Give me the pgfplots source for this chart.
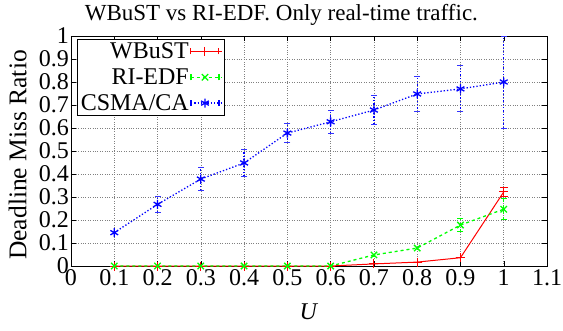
\documentclass[border=0pt]{standalone}
\usepackage{pgfplots}
\pgfplotsset{compat=1.18}
\usepackage{fontspec}
\setmainfont{Liberation Serif}
\newcommand{\bigf}{\fontsize{24}{27}\selectfont}
\begin{document}
\begin{tikzpicture}[font=\bigf]
\begin{axis}[
  scale only axis,
  width=476pt, height=230pt,
  xmin=0, xmax=1.1, ymin=0, ymax=1,
  xtick={0,0.1,...,1.1},
  xticklabels={0,0.1,0.2,0.3,0.4,0.5,0.6,0.7,0.8,0.9,1,1.1},
  ytick={0,0.1,...,1},
  yticklabels={0,0.1,0.2,0.3,0.4,0.5,0.6,0.7,0.8,0.9,1},
  tick label style={font=\bigf, inner sep=0.3pt},
  xticklabel style={yshift=-3.5pt},
  yticklabel style={xshift=-1.5pt},
  label style={font=\bigf},
  tick align=inside,
  major tick length=5pt,
  tick style={black, thin},
  grid=major,
  grid style={gray, dotted, line width=0.6pt},
  axis line style={black, line width=0.9pt},
  every axis title shift=0pt,
  title={WBuST vs RI-EDF. Only real-time traffic.},
  title style={font=\fontsize{23}{26}\selectfont, at={(axis description cs:0.442,1.09)}, anchor=center, yshift=0pt},
  xlabel={\textit{U}},
  ylabel={Deadline Miss Ratio},
  ylabel style={font=\fontsize{25.5}{29}\selectfont, at={(axis description cs:-0.112,0.483)}, anchor=center},
  xlabel style={at={(axis description cs:0.5,-0.2)}, anchor=center},
  /pgf/number format/assume math mode=true,
  legend style={at={(0.0126,0.987)}, anchor=north west, draw=black, line width=0.6pt, fill=white, row sep=5.5pt, inner sep=2pt, font=\bigf, nodes={inner sep=1.5pt}},
  legend cell align=right,
  legend plot pos=right,
  legend image code/.code={
    \draw[#1, mark=none] (0pt,0pt) -- (28pt,0pt);
    \draw[#1, solid, mark=none] (0pt,-3pt) -- (0pt,3pt) (28pt,-3pt) -- (28pt,3pt);
    \draw[#1, only marks] plot coordinates {(14pt,0pt)};
    \path (0pt,0pt) -- (31pt,0pt);
  },
  unbounded coords=jump,
]
% error bars (low/high pairs)
\addplot[red, solid, line width=1pt, forget plot] coordinates {
  (0.7,0.007) (0.7,0.011) (0.7,nan)
  (0.8,0.014) (0.8,0.020) (0.8,nan)
  (0.9,0.032) (0.9,0.040) (0.9,nan)
  (1.0,0.302) (1.0,0.342)
};
\addplot[red, only marks, mark=-, mark size=4pt, forget plot, mark options={draw=red, solid, line width=1.2pt}] coordinates {
  (1.0,0.302) (1.0,0.342)
};
\addplot[green, dashed, line width=1.3pt, forget plot] coordinates {
  (0.7,0.040) (0.7,0.056) (0.7,nan)
  (0.8,0.070) (0.8,0.086) (0.8,nan)
  (0.9,0.148) (0.9,0.208) (0.9,nan)
  (1.0,0.202) (1.0,0.292)
};
\addplot[green, only marks, mark=-, mark size=3pt, forget plot, mark options={draw=green, solid, line width=1pt}] coordinates {
  (0.9,0.148) (0.9,0.208) (1.0,0.202) (1.0,0.292)
};
\addplot[blue, dotted, line width=1.3pt, forget plot] coordinates {
  (0.1,0.133) (0.1,0.157) (0.1,nan)
  (0.2,0.233) (0.2,0.303) (0.2,nan)
  (0.3,0.328) (0.3,0.428) (0.3,nan)
  (0.4,0.388) (0.4,0.508) (0.4,nan)
  (0.5,0.535) (0.5,0.621) (0.5,nan)
  (0.6,0.577) (0.6,0.677) (0.6,nan)
  (0.7,0.616) (0.7,0.740) (0.7,nan)
  (0.8,0.670) (0.8,0.826) (0.8,nan)
  (0.9,0.670) (0.9,0.870) (0.9,nan)
  (1.0,0.600) (1.0,1.000)
};
\addplot[blue!80, only marks, mark=-, mark size=3pt, forget plot, mark options={draw=blue!80, solid, line width=1pt}] coordinates {
  (0.2,0.233) (0.2,0.303) (0.3,0.328) (0.3,0.428) (0.4,0.388) (0.4,0.508)
  (0.5,0.535) (0.5,0.621) (0.6,0.577) (0.6,0.677) (0.7,0.616) (0.7,0.740)
  (0.8,0.670) (0.8,0.826) (0.9,0.670) (0.9,0.870) (1.0,0.600) (1.0,1.000)
};
% main series
\addplot[red, solid, line width=1pt, mark=+, mark size=4.5pt, mark options={solid}] coordinates {
  (0.1,0) (0.2,0) (0.3,0) (0.4,0) (0.5,0) (0.6,0)
  (0.7,0.009) (0.8,0.017) (0.9,0.036) (1.0,0.322)
};
\addlegendentry{WBuST}
\addplot[green, dashed, line width=1.3pt, mark=x, mark size=4.5pt, mark options={solid}] coordinates {
  (0.1,0) (0.2,0) (0.3,0) (0.4,0) (0.5,0) (0.6,0)
  (0.7,0.048) (0.8,0.078) (0.9,0.178) (1.0,0.247)
};
\addlegendentry{RI-EDF}
\addplot[blue, dotted, line width=1.3pt, mark=asterisk, mark size=4.5pt, mark options={solid}] coordinates {
  (0.1,0.145) (0.2,0.268) (0.3,0.378) (0.4,0.448) (0.5,0.578)
  (0.6,0.627) (0.7,0.678) (0.8,0.748) (0.9,0.77) (1.0,0.80)
};
\addlegendentry{CSMA/CA}
\end{axis}
\pgfresetboundingbox
\path (current axis.south west) ++(-71pt,-64pt) rectangle ++(563pt,330pt);
\end{tikzpicture}
\end{document}
